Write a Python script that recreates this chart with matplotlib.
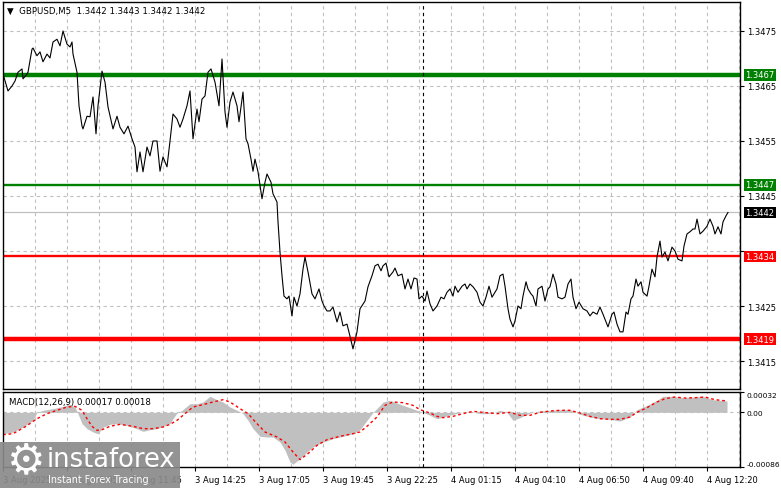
import numpy as np
import matplotlib.pyplot as plt
from matplotlib.patches import Rectangle

# GBPUSD M5 close prices (bar number, close)
bars = [0, 2.5, 4.5, 6, 7.5, 9.5, 10, 12, 12.5, 14.5, 15, 17, 18.5, 20, 22, 23.5, 25, 27, 28.5, 30,
        32, 33.5, 34.5, 35, 37, 38, 39.5, 40, 42, 43.5, 45, 46.5, 47.5, 49.5, 51, 52.5, 55, 57, 58.5, 60.5,
        62.5, 64.5, 66, 67, 68.5, 70, 72, 73.5, 75, 77, 78.5, 80, 82, 83.5, 85, 87, 88.5, 90, 92, 93.5,
        95, 97, 98, 99.5, 101, 102.5, 104, 106, 108, 109.5, 111, 112, 113.5, 115, 117, 118, 120, 121.5,
        122.5, 124, 125, 126, 127.5, 129.5, 131, 132, 134, 135, 137, 137.5, 138.5, 139.5, 140.5, 142,
        143, 144.5, 145.5, 147, 148.5, 150, 151, 152.5, 154.5, 156, 158, 159.5, 160.5, 162, 163.5, 165,
        167, 168.5, 170, 172, 173.5, 175, 177,
        178.5, 181, 182.5, 184.5, 186, 187.5, 189, 190, 191.5, 193, 195, 196, 197.5, 199.5, 201, 202.5,
        204, 205.5, 207, 208, 209.5, 211, 212, 213.5, 215, 217, 219, 220.5, 222, 223.5, 225, 226, 227.5,
        229.5, 231, 232, 233.5, 235, 237, 238.5, 240, 241.5, 243, 244.5, 246, 247, 248.5, 250, 251,
        252.5, 253.5, 255, 256, 257.5, 259, 260, 261.5, 262.5, 264, 265, 266.5, 267.5, 269.5, 271, 272.5,
        273.5, 275, 276.5, 277.5, 279.5, 281, 282.5, 284, 285, 286.5, 288, 290, 292, 293.5, 295, 297,
        298.5, 300, 301.5, 302.5, 304.5, 305.5, 307, 308.5, 310, 311.5, 312.5, 314, 315, 316.5, 317.5,
        319, 320, 322, 323, 324.5, 326, 327, 328.5, 329.5, 331, 332.5, 334.5, 336, 337.5, 339.5, 340.5,
        342, 343.5, 345, 346, 347, 348.5, 350, 352, 353.5, 355, 356, 357.5, 359, 360, 361.5, 362.5]
closes = [1.34672, 1.34641, 1.34650, 1.34659, 1.34675, 1.34681, 1.34663, 1.34672, 1.34675, 1.34717,
          1.34719, 1.34705, 1.34712, 1.34694, 1.34708, 1.34701, 1.34730, 1.34735, 1.34723, 1.34750,
          1.34726, 1.34721, 1.34730, 1.34708, 1.34675, 1.34614, 1.34577, 1.34572, 1.34595, 1.34594,
          1.34630, 1.34563, 1.34614, 1.34677, 1.34657, 1.34612, 1.34572, 1.34595, 1.34575, 1.34563,
          1.34577, 1.34554, 1.34539, 1.34494, 1.34530, 1.34494, 1.34539, 1.34523, 1.34550, 1.34550,
          1.34495, 1.34521, 1.34503, 1.34550, 1.34599, 1.34590, 1.34575, 1.34590, 1.34614, 1.34641,
          1.34554, 1.34608, 1.34585, 1.34626, 1.34632, 1.34675, 1.34681, 1.34657, 1.34614, 1.34699,
          1.34603, 1.34575, 1.34621, 1.34639, 1.34614, 1.34585, 1.34639, 1.34554, 1.34545, 1.34517,
          1.34495, 1.34517, 1.34494, 1.34445, 1.34475, 1.34490, 1.34475, 1.34454, 1.34439, 1.34403,
          1.34348, 1.34305, 1.34268, 1.34263, 1.34268, 1.34232, 1.34266, 1.34250, 1.34272, 1.34317,
          1.34339, 1.34312, 1.34272, 1.34263, 1.34281, 1.34259, 1.34250, 1.34241, 1.34241, 1.34248,
          1.34221, 1.34239, 1.34214, 1.34217, 1.34195, 1.34172, 1.34203,
          1.34245, 1.34259, 1.34285, 1.34305, 1.34323, 1.34326, 1.34314, 1.34323, 1.34328, 1.34303,
          1.34312, 1.34319, 1.34305, 1.34308, 1.34281, 1.34299, 1.34281, 1.34301, 1.34299, 1.34263,
          1.34268, 1.34259, 1.34277, 1.34254, 1.34241, 1.34250, 1.34266, 1.34263, 1.34275, 1.34281,
          1.34268, 1.34286, 1.34275, 1.34286, 1.34290, 1.34281, 1.34290, 1.34285, 1.34275, 1.34257,
          1.34250, 1.34266, 1.34286, 1.34266, 1.34275, 1.34281, 1.34305, 1.34308, 1.34286, 1.34245,
          1.34226, 1.34212, 1.34223, 1.34250, 1.34245, 1.34268, 1.34294, 1.34281, 1.34272, 1.34268,
          1.34250, 1.34281, 1.34286, 1.34259, 1.34281,
          1.34285, 1.34308, 1.34290, 1.34266, 1.34263, 1.34266, 1.34290, 1.34299, 1.34266, 1.34245,
          1.34257, 1.34245, 1.34241, 1.34232, 1.34239, 1.34235, 1.34248, 1.34235, 1.34221, 1.34212,
          1.34235, 1.34239, 1.34217, 1.34203, 1.34203, 1.34239, 1.34235, 1.34263, 1.34268, 1.34299,
          1.34286, 1.34294, 1.34275, 1.34268, 1.34286, 1.34317, 1.34303, 1.34339, 1.34368, 1.34339,
          1.34348, 1.34332, 1.34357, 1.34350, 1.34335, 1.34332, 1.34359, 1.34381, 1.34385, 1.34390,
          1.34390, 1.34408, 1.34381, 1.34386, 1.34395, 1.34408, 1.34395, 1.34381, 1.34394, 1.34381,
          1.34403, 1.34414, 1.34420]

# MACD(12,26,9) main (histogram) and signal
macd_bars = [0, 5, 10, 15, 17, 20, 25, 30, 33.5, 36, 37.5, 39.5, 42, 45, 47.5, 50, 53.5, 57, 62, 67,
             70, 73.5, 77, 80, 83.5, 85, 87, 89.5, 93.5, 97, 100, 103.5, 107, 110, 113.5, 117, 120,
             122.5, 125, 128.5, 132, 135, 138.5, 141, 143.5, 145, 148.5, 152, 155, 160, 165, 170, 175,
             178.5, 182, 185, 188.5, 190, 193.5, 197, 200, 203.5, 207, 210, 213.5, 217, 220, 225, 230,
             233.5, 238.5, 243.5, 248.5, 252, 255, 258.5, 263.5, 268.5, 273.5, 278.5, 283.5, 288.5,
             293.5, 298.5, 303.5, 308.5, 313.5, 317, 322, 327, 330, 335, 340, 345, 350, 355, 358.5, 362]
macd_vals = [-0.000336, -0.000309, -0.000231, -0.000126, 0.0, 0.000032, 0.000058, 0.000094, 0.000126,
             0.000084, -0.000021, -0.000178, -0.000257, -0.000309, -0.000336, -0.000231, -0.000189,
             -0.000178, -0.000205, -0.000257, -0.000299, -0.000273, -0.000257, -0.000220, -0.000178,
             -0.000100, -0.000011, 0.000032, 0.000136, 0.000136, 0.000163, 0.000252, 0.000199, 0.000163,
             0.000084, 0.000032, -0.000021, -0.000126, -0.000257, -0.000377, -0.000388, -0.000388,
             -0.000467, -0.000597, -0.000781, -0.000817, -0.000729, -0.000624, -0.000545, -0.000467,
             -0.000414, -0.000377, -0.000336, -0.000273, -0.000126, 0.0, 0.000110, 0.000163, 0.000189,
             0.000147, 0.000110, 0.000073, 0.000032, 0.0, -0.000047, -0.000100, -0.000074, -0.000031,
             0.0, 0.000016, -0.000021, -0.000021, 0.000032, 0.0, -0.000126, -0.000084, -0.000011,
             0.000021, 0.000032, 0.000042, 0.000042, -0.000031, -0.000074, -0.000100, -0.000110,
             -0.000137, -0.000074, 0.000042, 0.000110, 0.000189, 0.000252, 0.000252, 0.000230, 0.000241,
             0.000252, 0.000199, 0.000189, 0.000178]
sig_bars = [0, 5, 11.5, 17, 22, 27, 32, 36, 39.5, 42, 44.5, 47, 49.5, 53.5, 58.5, 65, 70, 75, 80, 83.5,
            87, 91, 95, 100, 105, 110, 113.5, 118.5, 122.5, 127, 131, 137, 141, 145, 148.5, 152.5, 157,
            162, 168.5, 175, 178.5, 182, 187, 191, 195, 200, 205, 208.5, 213.5, 217, 220, 225, 230, 235,
            240, 247, 253.5, 258.5, 263.5, 268.5, 273.5, 278.5, 283.5, 288.5, 293.5, 298.5, 303.5, 308.5,
            313.5, 317, 322, 327, 331, 336, 341, 346, 351, 356, 361.5]
sig_vals = [-0.000351, -0.000336, -0.000220, -0.000100, -0.000021, 0.000032, 0.000084, 0.000094,
            0.000032, -0.000100, -0.000220, -0.000283, -0.000273, -0.000220, -0.000189, -0.000220,
            -0.000257, -0.000257, -0.000231, -0.000189, -0.000126, -0.000021, 0.000084, 0.000121,
            0.000163, 0.000199, 0.000163, 0.000058, -0.000021, -0.000178, -0.000309, -0.000388,
            -0.000467, -0.000624, -0.000744, -0.000650, -0.000519, -0.000430, -0.000377, -0.000336,
            -0.000309, -0.000220, -0.000074, 0.000110, 0.000163, 0.000152, 0.000110, 0.000042,
            -0.000011, -0.000063, -0.000084, -0.000063, -0.000021, 0.000016, 0.0, -0.000021, 0.0,
            -0.000047, -0.000047, 0.0, 0.000021, 0.000032, 0.000032, -0.000011, -0.000063, -0.000100,
            -0.000110, -0.000110, -0.000074, 0.0, 0.000073, 0.000163, 0.000215, 0.000241, 0.000225,
            0.000230, 0.000241, 0.000199, 0.000180]

levels = [1.3467, 1.3447, 1.3434, 1.3419]
level_colors = ['#008000', '#008000', '#ff0000', '#ff0000']
level_widths = [3.2, 1.7, 1.7, 3.2]
bid = 1.3442

price_ticks = [1.3415, 1.3425, 1.3435, 1.3445, 1.3455, 1.3465, 1.3475]
price_labels = ['1.3415', '1.3425', '', '1.3445', '1.3455', '1.3465', '1.3475']
time_labels = ['3 Aug 2025', '3 Aug 09:05', '3 Aug 11:45', '3 Aug 14:25', '3 Aug 17:05', '3 Aug 19:45',
               '3 Aug 22:25', '4 Aug 01:15', '4 Aug 04:10', '4 Aug 06:50', '4 Aug 09:40', '4 Aug 12:20']
day_split = 210

plt.rcParams['font.family'] = ['DejaVu Sans']
fs = 6.0
grid_kw = dict(color='#c0c0c0', lw=0.8, ls=(0, (3, 3)), zorder=0)

W, H = 781, 489
fig = plt.figure(figsize=(W / 100, H / 100), dpi=100)
ax = fig.add_axes([3 / W, 1 - 390 / H, 737 / W, 387 / H])
ax2 = fig.add_axes([3 / W, 1 - 468 / H, 737 / W, 75 / H])

xmax = 368.5
tick_pos = np.arange(len(time_labels)) * 32
grid_pos = np.arange(16, xmax, 16)

# ---- price panel
for g in grid_pos:
    ax.axvline(g, **grid_kw)
for t in price_ticks:
    ax.axhline(t, **grid_kw)
ax.axhline(bid, color='#c0c0c0', lw=0.9, zorder=1)
for lv, c, w in zip(levels, level_colors, level_widths):
    ax.axhline(lv, color=c, lw=w, zorder=2)
ax.plot(bars, closes, color='black', lw=0.8, zorder=3)
ax.axvline(day_split, color='black', lw=0.8, ls=(0, (3, 3)), zorder=2)

ax.set_xlim(0, xmax)
ax.set_ylim(1.340991, 1.348027)
ax.set_xticks([])
ax.yaxis.tick_right()
ax.set_yticks(price_ticks)
ax.set_yticklabels(price_labels)
ax.tick_params(axis='y', direction='out', length=3, width=0.8, labelsize=fs, pad=2)

tr = ax.get_yaxis_transform()
for lv, c in zip(levels, level_colors):
    ax.text(1.0075, lv, f'{lv:.4f}', transform=tr, color='white', fontsize=fs, va='center', ha='left',
            bbox=dict(boxstyle='square,pad=0.15', fc=c, ec='none'))
ax.text(1.0075, bid, f'{bid:.4f}', transform=tr, color='white', fontsize=fs, va='center', ha='left',
        bbox=dict(boxstyle='square,pad=0.15', fc='black', ec='none'))

fig.text(7 / W, 1 - 11 / H, '\u25bc  GBPUSD,M5  1.3442 1.3443 1.3442 1.3442', fontsize=6.2, va='center')

# ---- MACD panel
for g in grid_pos:
    ax2.axvline(g, **grid_kw)
ax2.axhline(0, **grid_kw)
ax2.fill_between(macd_bars, 0, macd_vals, color='#c0c0c0', lw=0, zorder=1)
ax2.plot(sig_bars, sig_vals, color='#ff0000', lw=1.0, ls=(0, (2, 2)), zorder=2)
ax2.axvline(day_split, color='black', lw=0.8, ls=(0, (3, 3)), zorder=3)
ax2.set_xlim(0, xmax)
ax2.set_ylim(-0.00086, 0.00032)
ax2.yaxis.tick_right()
ax2.set_yticks([-0.00086, 0.0, 0.00032])
ax2.set_yticklabels(['-0.00086', '0.00', '0.00032'])
ax2.tick_params(axis='y', direction='out', length=3, width=0.8, labelsize=5.4, pad=1.5)
ylab = ax2.get_yticklabels()
ylab[0].set_va('bottom')
ylab[2].set_va('top')
ax2.set_xticks(tick_pos)
ax2.set_xticklabels(time_labels, ha='left')
ax2.tick_params(axis='x', direction='out', length=3, width=0.8, labelsize=fs, pad=3)
ax2.text(0.008, 0.93, 'MACD(12,26,9) 0.00017 0.00018', transform=ax2.transAxes, fontsize=6.2, va='top')

for a in (ax, ax2):
    for s in a.spines.values():
        s.set_color('black')
        s.set_linewidth(1.0)

# ---- watermark
fig.patches.append(Rectangle((0, 0), 180 / W, 46 / H, transform=fig.transFigure,
                             fc='#8a8a8a', ec='none', alpha=0.92, zorder=10))
fig.text(26 / W, 1 - 461 / H, '\u2699', color='white', fontsize=31, ha='center', va='center', zorder=11)
fig.text(47 / W, 1 - 460 / H, 'instaforex', color='white', fontsize=18.5, va='center', zorder=11)
fig.text(48 / W, 1 - 480 / H, 'Instant Forex Tracing', color='white', fontsize=6.9, va='center', zorder=11)

fig.savefig('out.png', dpi=100)
